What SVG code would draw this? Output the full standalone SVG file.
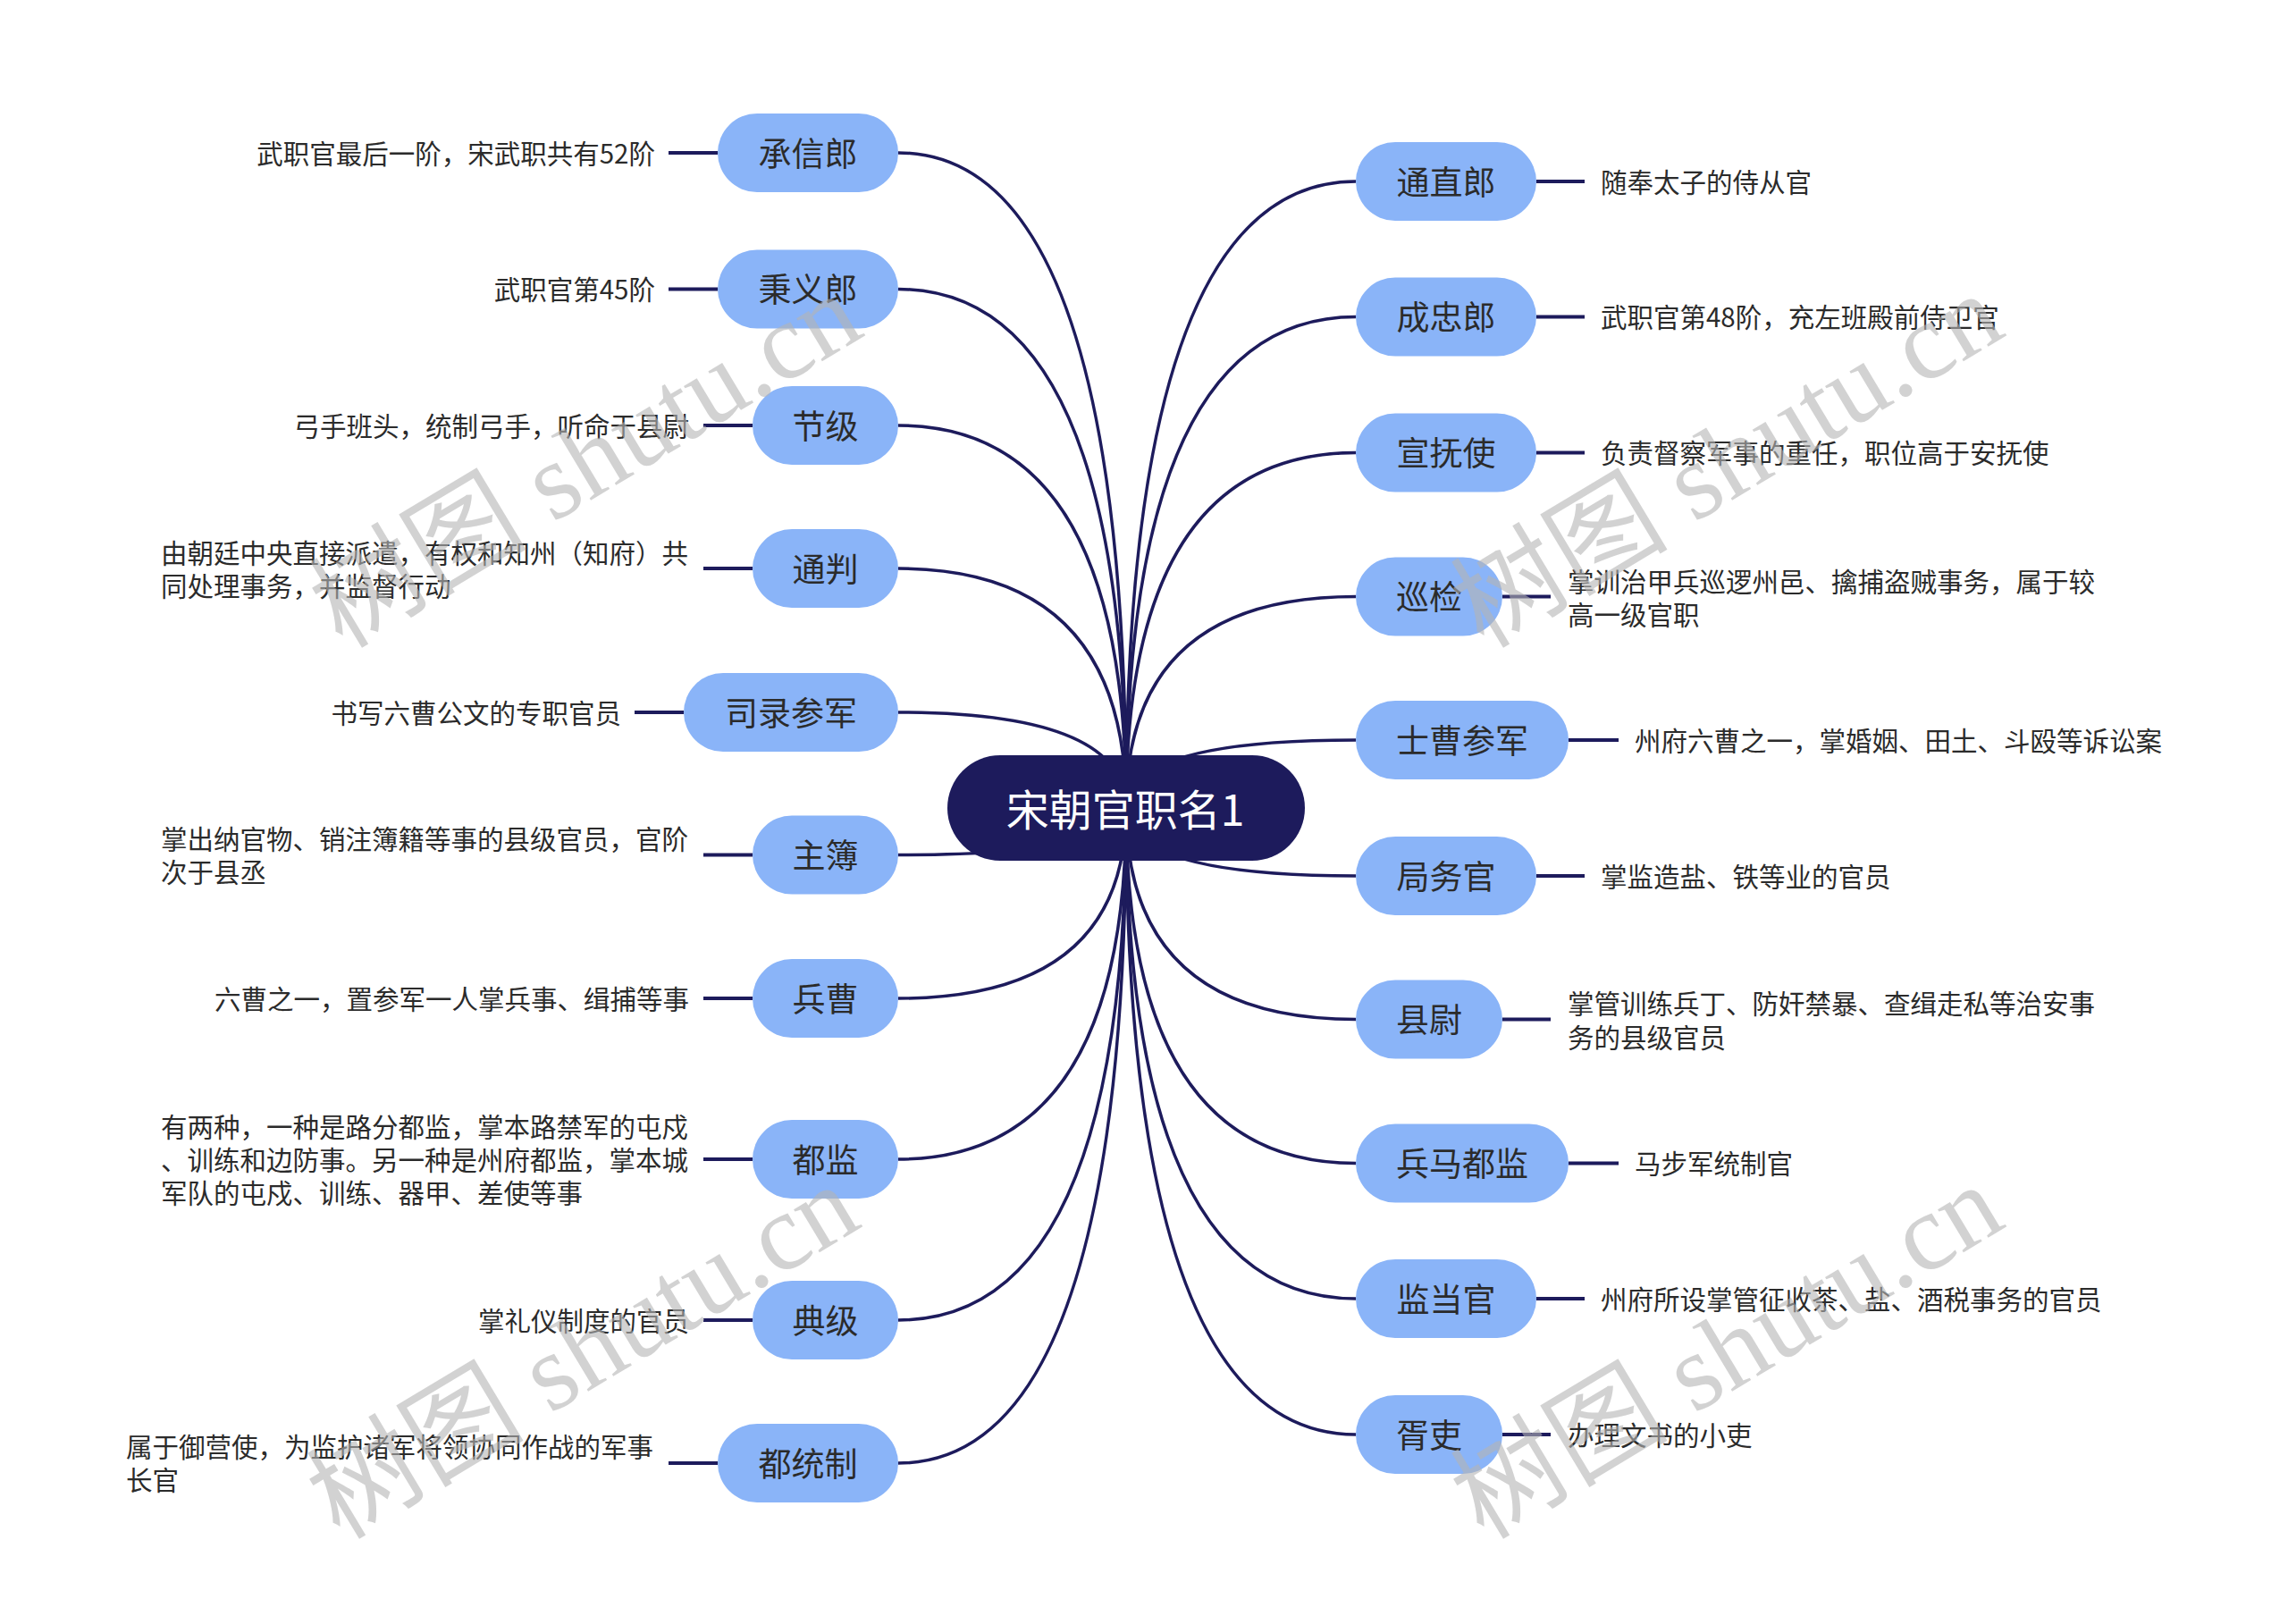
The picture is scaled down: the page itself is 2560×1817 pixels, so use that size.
<svg xmlns="http://www.w3.org/2000/svg" width="2560" height="1817" viewBox="0 0 2560 1817">
<style>
.bg{fill:#ffffff}
.conn{fill:none;stroke:#1d1b5c;stroke-width:3.5}
.lead{fill:none;stroke:#1d1b5c;stroke-width:4}
.pill{fill:#8ab4f8}
.lbl{font-family:"Noto Sans CJK SC","Noto Sans",sans-serif;font-size:37px;fill:#2b2b2b;text-anchor:middle;dominant-baseline:central;transform:translate(0px,-1.5px)}
.desc{font-family:"Noto Sans CJK SC","Noto Sans",sans-serif;font-size:29.5px;fill:#2b2b2b;dominant-baseline:central;transform:translate(0px,-1.5px)}
.end{text-anchor:end}
.root{fill:#1d1b5c}
.rootlbl{font-family:"Noto Sans CJK SC","Noto Sans",sans-serif;font-size:48px;fill:#ffffff;text-anchor:middle;dominant-baseline:central;transform:translate(0px,-1.5px)}
.wm{font-family:"Liberation Serif","Noto Sans CJK SC",serif;font-size:122px;fill:#b4b4b4;fill-opacity:0.6;text-anchor:middle;dominant-baseline:central}
</style>
<rect class="bg" x="0" y="0" width="2560" height="1817"/>
<g id="connectors">
<path class="conn" d="M1005 171 Q1260 171 1260 904"/>
<path class="conn" d="M1005 323.5 Q1260 323.5 1260 904"/>
<path class="conn" d="M1005 476 Q1260 476 1260 904"/>
<path class="conn" d="M1005 636 Q1260 636 1260 904"/>
<path class="conn" d="M1005 797 Q1260 797 1260 904"/>
<path class="conn" d="M1005 956.5 Q1260 956.5 1260 904"/>
<path class="conn" d="M1005 1117 Q1260 1117 1260 904"/>
<path class="conn" d="M1005 1297 Q1260 1297 1260 904"/>
<path class="conn" d="M1005 1477 Q1260 1477 1260 904"/>
<path class="conn" d="M1005 1637 Q1260 1637 1260 904"/>
<path class="conn" d="M1517 203 Q1260 203 1260 904"/>
<path class="conn" d="M1517 354.5 Q1260 354.5 1260 904"/>
<path class="conn" d="M1517 506.5 Q1260 506.5 1260 904"/>
<path class="conn" d="M1517 667.5 Q1260 667.5 1260 904"/>
<path class="conn" d="M1517 828 Q1260 828 1260 904"/>
<path class="conn" d="M1517 980 Q1260 980 1260 904"/>
<path class="conn" d="M1517 1140.5 Q1260 1140.5 1260 904"/>
<path class="conn" d="M1517 1301.5 Q1260 1301.5 1260 904"/>
<path class="conn" d="M1517 1453 Q1260 1453 1260 904"/>
<path class="conn" d="M1517 1605 Q1260 1605 1260 904"/>
</g>
<g id="root">
<rect class="root" x="1060" y="845" width="400" height="118" rx="59"/>
<text class="rootlbl" x="1259" y="904">宋朝官职名1</text>
</g>
<g id="n-chengxinlang">
<rect class="pill" x="803" y="127" width="202" height="88" rx="44"/>
<text class="lbl" x="904" y="171">承信郎</text>
<path class="lead" d="M748 171H803"/>
<text class="desc end" x="733" y="171">武职官最后一阶，宋武职共有52阶</text>
</g>
<g id="n-bingyilang">
<rect class="pill" x="803" y="279.5" width="202" height="88" rx="44"/>
<text class="lbl" x="904" y="323.5">秉义郎</text>
<path class="lead" d="M748 323.5H803"/>
<text class="desc end" x="733" y="323.5">武职官第45阶</text>
</g>
<g id="n-jieji">
<rect class="pill" x="842" y="432" width="163" height="88" rx="44"/>
<text class="lbl" x="923.5" y="476">节级</text>
<path class="lead" d="M787 476H842"/>
<text class="desc end" x="771" y="476">弓手班头，统制弓手，听命于县尉</text>
</g>
<g id="n-tongpan">
<rect class="pill" x="842" y="592" width="163" height="88" rx="44"/>
<text class="lbl" x="923.5" y="636">通判</text>
<path class="lead" d="M787 636H842"/>
<text class="desc" x="180" y="618">由朝廷中央直接派遣，有权和知州（知府）共</text>
<text class="desc" x="180" y="655">同处理事务，并监督行动</text>
</g>
<g id="n-siluicanjun">
<rect class="pill" x="765" y="753" width="240" height="88" rx="44"/>
<text class="lbl" x="885" y="797">司录参军</text>
<path class="lead" d="M710 797H765"/>
<text class="desc end" x="695" y="797">书写六曹公文的专职官员</text>
</g>
<g id="n-zhubu">
<rect class="pill" x="842" y="912.5" width="163" height="88" rx="44"/>
<text class="lbl" x="923.5" y="956.5">主簿</text>
<path class="lead" d="M787 956.5H842"/>
<text class="desc" x="180" y="938.5">掌出纳官物、销注簿籍等事的县级官员，官阶</text>
<text class="desc" x="180" y="975.5">次于县丞</text>
</g>
<g id="n-bingcao">
<rect class="pill" x="842" y="1073" width="163" height="88" rx="44"/>
<text class="lbl" x="923.5" y="1117">兵曹</text>
<path class="lead" d="M787 1117H842"/>
<text class="desc end" x="771" y="1117">六曹之一，置参军一人掌兵事、缉捕等事</text>
</g>
<g id="n-dujian">
<rect class="pill" x="842" y="1253" width="163" height="88" rx="44"/>
<text class="lbl" x="923.5" y="1297">都监</text>
<path class="lead" d="M787 1297H842"/>
<text class="desc" x="180" y="1260">有两种，一种是路分都监，掌本路禁军的屯戍</text>
<text class="desc" x="180" y="1297">、训练和边防事。另一种是州府都监，掌本城</text>
<text class="desc" x="180" y="1334">军队的屯戍、训练、器甲、差使等事</text>
</g>
<g id="n-dianji">
<rect class="pill" x="842" y="1433" width="163" height="88" rx="44"/>
<text class="lbl" x="923.5" y="1477">典级</text>
<path class="lead" d="M787 1477H842"/>
<text class="desc end" x="771" y="1477">掌礼仪制度的官员</text>
</g>
<g id="n-dutongzhi">
<rect class="pill" x="803" y="1593" width="202" height="88" rx="44"/>
<text class="lbl" x="904" y="1637">都统制</text>
<path class="lead" d="M748 1637H803"/>
<text class="desc" x="141" y="1618.5">属于御营使，为监护诸军将领协同作战的军事</text>
<text class="desc" x="141" y="1655.5">长官</text>
</g>
<g id="n-tongzhilang">
<rect class="pill" x="1517" y="159" width="202" height="88" rx="44"/>
<text class="lbl" x="1618" y="203">通直郎</text>
<path class="lead" d="M1719 203H1773"/>
<text class="desc" x="1791" y="203">随奉太子的侍从官</text>
</g>
<g id="n-chengzhonglang">
<rect class="pill" x="1517" y="310.5" width="202" height="88" rx="44"/>
<text class="lbl" x="1618" y="354.5">成忠郎</text>
<path class="lead" d="M1719 354.5H1773"/>
<text class="desc" x="1791" y="354.5">武职官第48阶，充左班殿前侍卫官</text>
</g>
<g id="n-xuanfushi">
<rect class="pill" x="1517" y="462.5" width="202" height="88" rx="44"/>
<text class="lbl" x="1618" y="506.5">宣抚使</text>
<path class="lead" d="M1719 506.5H1773"/>
<text class="desc" x="1791" y="506.5">负责督察军事的重任，职位高于安抚使</text>
</g>
<g id="n-xunjian">
<rect class="pill" x="1517" y="623.5" width="164" height="88" rx="44"/>
<text class="lbl" x="1599" y="667.5">巡检</text>
<path class="lead" d="M1681 667.5H1735"/>
<text class="desc" x="1754" y="650">掌训治甲兵巡逻州邑、擒捕盗贼事务，属于较</text>
<text class="desc" x="1754" y="687">高一级官职</text>
</g>
<g id="n-shicaocanjun">
<rect class="pill" x="1517" y="784" width="238" height="88" rx="44"/>
<text class="lbl" x="1636" y="828">士曹参军</text>
<path class="lead" d="M1755 828H1811"/>
<text class="desc" x="1829" y="828">州府六曹之一，掌婚姻、田土、斗殴等诉讼案</text>
</g>
<g id="n-juwuguan">
<rect class="pill" x="1517" y="936" width="202" height="88" rx="44"/>
<text class="lbl" x="1618" y="980">局务官</text>
<path class="lead" d="M1719 980H1773"/>
<text class="desc" x="1791" y="980">掌监造盐、铁等业的官员</text>
</g>
<g id="n-xianwei">
<rect class="pill" x="1517" y="1096.5" width="164" height="88" rx="44"/>
<text class="lbl" x="1599" y="1140.5">县尉</text>
<path class="lead" d="M1681 1140.5H1735"/>
<text class="desc" x="1754" y="1122">掌管训练兵丁、防奸禁暴、查缉走私等治安事</text>
<text class="desc" x="1754" y="1160">务的县级官员</text>
</g>
<g id="n-bingmadujian">
<rect class="pill" x="1517" y="1257.5" width="238" height="88" rx="44"/>
<text class="lbl" x="1636" y="1301.5">兵马都监</text>
<path class="lead" d="M1755 1301.5H1811"/>
<text class="desc" x="1829" y="1301.5">马步军统制官</text>
</g>
<g id="n-jiandangguan">
<rect class="pill" x="1517" y="1409" width="202" height="88" rx="44"/>
<text class="lbl" x="1618" y="1453">监当官</text>
<path class="lead" d="M1719 1453H1773"/>
<text class="desc" x="1791" y="1453">州府所设掌管征收茶、盐、酒税事务的官员</text>
</g>
<g id="n-xuli">
<rect class="pill" x="1517" y="1561" width="164" height="88" rx="44"/>
<text class="lbl" x="1599" y="1605">胥吏</text>
<path class="lead" d="M1681 1605H1735"/>
<text class="desc" x="1754" y="1605">办理文书的小吏</text>
</g>
<g id="watermarks">
<text class="wm" transform="translate(655 515) rotate(-31)">树图 shutu.cn</text>
<text class="wm" transform="translate(1932 515) rotate(-31)">树图 shutu.cn</text>
<text class="wm" transform="translate(652 1512) rotate(-31)">树图 shutu.cn</text>
<text class="wm" transform="translate(1932 1512) rotate(-31)">树图 shutu.cn</text>
</g>
</svg>
